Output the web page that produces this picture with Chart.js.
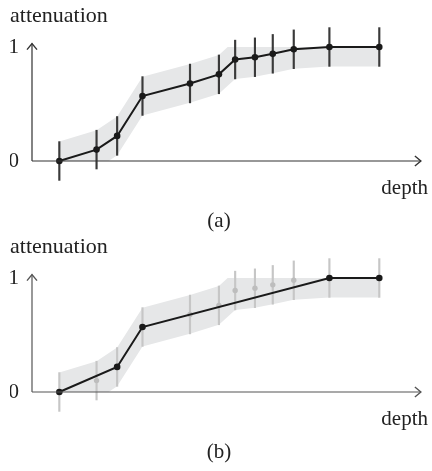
<!DOCTYPE html>
<html>
<head>
<meta charset="utf-8">
<script src="https://cdn.jsdelivr.net/npm/chart.js@4.4.0/dist/chart.umd.min.js"></script>
<style>
  body { margin: 0; background: #fff; }
  .panel { position: absolute; left: 0; width: 432px; height: 236px; }
</style>
</head>
<body>
<div class="panel" style="top:0"><canvas id="chartA"></canvas></div>
<div class="panel" style="top:231px"><canvas id="chartB"></canvas></div>
<script>
const depths = [0.69, 1.63, 2.15, 2.79, 3.99, 4.72, 5.13, 5.63, 6.08, 6.61, 7.51, 8.77];
const attenuation = [0, 0.10, 0.22, 0.57, 0.68, 0.76, 0.89, 0.91, 0.94, 0.98, 1.0, 1.0];
const errors = [0.17, 0.17, 0.17, 0.17, 0.17, 0.17, 0.17, 0.17, 0.17, 0.17, 0.17, 0.17];
// Points kept by the simplified curve in panel (b)
const keptPoints = [0, 2, 3, 10, 11];
const yTicks = [0, 1];

const SERIF = '"Liberation Serif", "DejaVu Serif", serif';
const FONT = { family: SERIF, size: 21, weight: 'normal' };
const TITLE_FONT = { family: SERIF, size: 22, weight: 'normal' };
const TEXT = '#222';

// Draw the axes as lines with open arrow heads
const axisArrows = {
    id: 'axisArrows',
    afterDatasetsDraw(chart, args, opts) {
        const ctx = chart.ctx;
        const xs = chart.scales.x;
        const ys = chart.scales.y;
        const x0 = xs.getPixelForValue(0);
        const y0 = ys.getPixelForValue(0);
        const xEnd = xs.getPixelForValue(opts.xEnd);
        const yEnd = ys.getPixelForValue(opts.yEnd);
        ctx.save();
        ctx.strokeStyle = opts.color;
        ctx.lineWidth = 1.2;
        ctx.beginPath();
        ctx.moveTo(x0, y0);
        ctx.lineTo(xEnd, y0);
        ctx.moveTo(x0, y0);
        ctx.lineTo(x0, yEnd);
        ctx.stroke();
        ctx.lineWidth = 1.4;
        ctx.beginPath();
        ctx.moveTo(xEnd - 6, y0 - 5);
        ctx.lineTo(xEnd, y0);
        ctx.lineTo(xEnd - 6, y0 + 5);
        ctx.moveTo(x0 - 5, yEnd + 6);
        ctx.lineTo(x0, yEnd);
        ctx.lineTo(x0 + 5, yEnd + 6);
        ctx.stroke();
        ctx.restore();
    }
};

function buildChart(canvasId, label, simplified) {
    const points = depths.map((x, i) => ({ x: x, y: attenuation[i] }));
    const upper = depths.map((x, i) => ({ x: x, y: attenuation[i] + errors[i] }));
    const lower = depths.map((x, i) => ({ x: x, y: attenuation[i] - errors[i] }));
    const bars = depths.map((x, i) => ({ x: x, y: [attenuation[i] - errors[i], attenuation[i] + errors[i]] }));

    const datasets = [
        {
            type: 'line', data: upper, borderWidth: 0, pointRadius: 0,
            fill: false, order: 5, clip: false
        },
        {
            type: 'line', data: lower, borderWidth: 0, pointRadius: 0,
            fill: '-1', backgroundColor: '#e6e7e8', order: 4, clip: false
        },
        {
            type: 'bar', data: bars, barThickness: 1.5, borderWidth: 0,
            backgroundColor: simplified ? '#c6c6c6' : '#3a3a3a', order: 3, clip: false
        }
    ];

    if (simplified) {
        datasets.push({
            type: 'line', data: points, showLine: false, pointRadius: 2.7,
            pointBackgroundColor: '#bdbdbd', pointBorderWidth: 0, order: 2, clip: false
        });
        datasets.push({
            type: 'line', data: keptPoints.map(i => points[i]),
            borderColor: '#1a1a1a', borderWidth: 2, pointRadius: 3.3,
            pointBackgroundColor: '#1a1a1a', pointBorderWidth: 0, tension: 0, order: 1, clip: false
        });
    } else {
        datasets.push({
            type: 'line', data: points,
            borderColor: '#1a1a1a', borderWidth: 2, pointRadius: 3.3,
            pointBackgroundColor: '#1a1a1a', pointBorderWidth: 0, tension: 0, order: 1, clip: false
        });
    }

    new Chart(document.getElementById(canvasId), {
        type: 'line',
        data: { datasets: datasets },
        options: {
            responsive: true,
            maintainAspectRatio: false,
            animation: false,
            events: [],
            layout: { padding: { left: 10, right: 4, top: 0, bottom: 0 } },
            plugins: {
                legend: { display: false },
                tooltip: { enabled: false },
                title: {
                    display: true, text: 'attenuation', align: 'start',
                    font: TITLE_FONT, color: TEXT, padding: { top: 3, bottom: 17.6 }
                },
                subtitle: {
                    display: true, text: label, position: 'bottom',
                    font: FONT, color: TEXT, padding: { top: 0, bottom: 2 }
                },
                axisArrows: { xEnd: 9.82, yEnd: 1.03, color: simplified ? '#555' : '#333' }
            },
            scales: {
                x: {
                    type: 'linear', min: 0, max: 10, offset: false,
                    grid: { display: false, drawTicks: false },
                    border: { display: false },
                    ticks: { display: false },
                    title: {
                        display: true, text: 'depth', align: 'end',
                        font: FONT, color: TEXT, padding: { top: 14.8, bottom: 7.8 }
                    }
                },
                y: {
                    type: 'linear', min: 0, max: 1,
                    grid: { display: false, drawTicks: false },
                    border: { display: false },
                    ticks: { font: FONT, color: TEXT, padding: 13 },
                    afterBuildTicks: function(scale) {
                        scale.ticks = yTicks.map(v => ({ value: v }));
                    },
                    afterFit: function(scale) {
                        scale.width = 22;
                    }
                }
            }
        },
        plugins: [axisArrows]
    });
}

buildChart('chartA', '(a)', false);
buildChart('chartB', '(b)', true);
</script>
</body>
</html>
